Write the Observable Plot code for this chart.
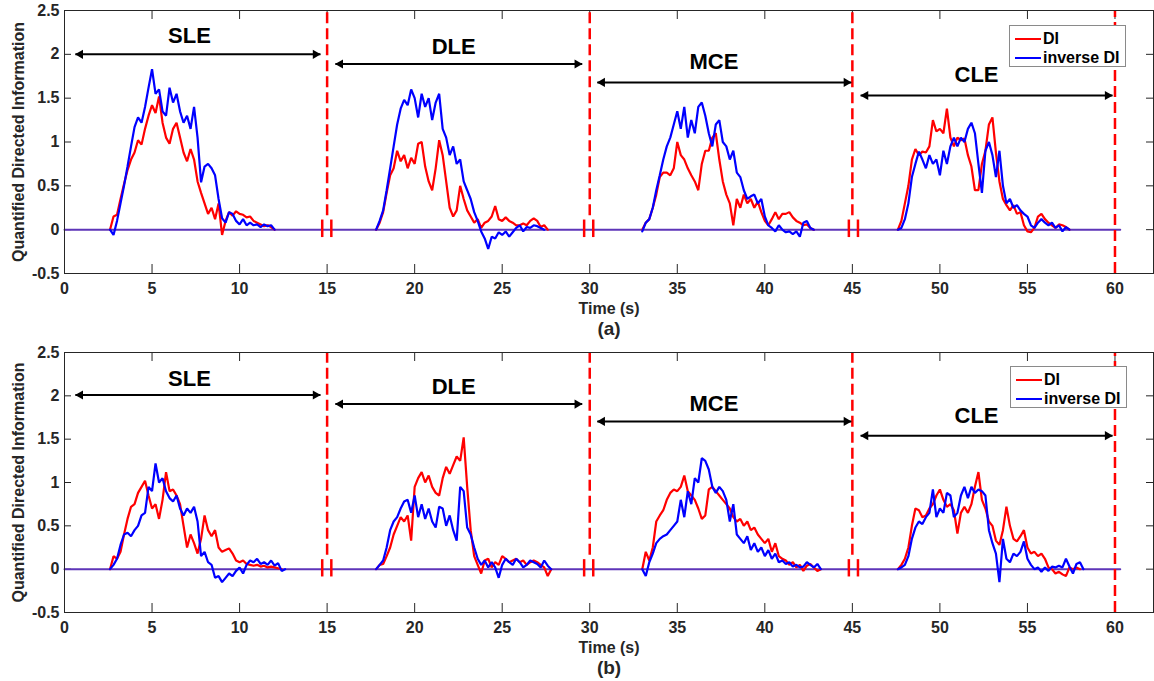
<!DOCTYPE html>
<html><head><meta charset="utf-8">
<script src="https://cdn.jsdelivr.net/npm/d3@7"></script>
<script src="https://cdn.jsdelivr.net/npm/@observablehq/plot@0.6"></script>
<style>
body{margin:0;background:#fff;font-family:"Liberation Sans",Arial,sans-serif;}
#wrap{position:relative;width:1154px;height:681px;overflow:hidden;}
#wrap svg{display:block;}
.legend{position:absolute;background:#fff;border:1px solid #8a8a8a;font-weight:bold;font-size:16px;color:#000;box-sizing:border-box;}
.legend .row{position:absolute;left:0;height:18px;line-height:18px;white-space:nowrap;display:flex;align-items:center;}
.legend .sw{display:inline-block;width:26px;height:2.5px;margin-right:2px;}
</style></head><body><div id="wrap"></div>
<script>
// ---------- data ----------
const dt = 0.2;                       // sampling step (s)
const xTicks = [0,5,10,15,20,25,30,35,40,45,50,55,60];
const yTicks = [-0.5,0,0.5,1,1.5,2,2.5];
const phases = ["SLE","DLE","MCE","CLE"];
const onsetsA = [2.6, 17.8, 33.0, 47.6];
const onsetsB = [2.6, 17.8, 33.0, 47.6];

// panel (a) DI
const aSLE_DI = [0,0.15,0.17,0.35,0.52,0.68,0.80,0.88,1.02,0.97,1.15,1.30,1.42,1.33,1.52,1.22,1.05,0.98,1.15,1.22,1.05,0.88,0.78,0.92,0.80,0.55,0.42,0.30,0.18,0.25,0.12,0.30,-0.06,0.10,0.20,0.16,0.21,0.18,0.17,0.14,0.15,0.10,0.08,0.06,0.04,0.05,0.03,0];
const aDLE_DI = [0,0.08,0.20,0.42,0.62,0.70,0.90,0.78,0.85,0.70,0.82,0.75,0.98,1.0,0.72,0.55,0.45,0.70,1.02,0.85,0.55,0.25,0.15,0.22,0.50,0.35,0.22,0.15,0.08,0.12,0.02,0.08,0.10,0.15,0.27,0.12,0.10,0.14,0.10,0.08,0.05,0.05,0.07,0.05,0.10,0.13,0.10,0.03,0.05,0];
const aMCE_DI = [0,0.08,0.12,0.25,0.40,0.60,0.65,0.65,0.62,0.70,1.0,0.85,0.80,0.70,0.62,0.55,0.45,0.75,0.90,0.90,1.05,1.10,0.80,0.55,0.40,0.30,0.05,0.35,0.25,0.40,0.30,0.35,0.25,0.32,0.20,0.10,0.05,0.12,0.20,0.12,0.18,0.18,0.20,0.14,0.10,0.08,0.05,0.06,0.02,0];
const aCLE_DI = [0,0.10,0.30,0.50,0.80,0.92,0.85,0.89,0.88,0.95,1.25,1.12,1.15,1.10,1.38,1.05,0.95,1.05,1.02,1.04,0.85,0.72,0.45,0.45,0.75,0.90,1.20,1.28,0.88,0.55,0.35,0.28,0.22,0.28,0.18,0.20,0.05,-0.02,-0.03,0.02,0.15,0.18,0.12,0.08,0.05,0.02,0.06,0.05,0.03,0];
// panel (a) inverse DI
const aSLE_IDI = [0,-0.06,0.10,0.30,0.50,0.72,0.95,1.17,1.28,1.22,1.40,1.62,1.83,1.55,1.60,1.35,1.30,1.62,1.45,1.55,1.35,1.22,1.30,1.15,1.40,1.05,0.54,0.72,0.75,0.70,0.62,0.35,0.13,0.08,0.20,0.18,0.10,0.06,0.12,0.05,0.08,0.05,0.06,0.03,0.06,0.04,0.05,0];
const aDLE_IDI = [0,0.10,0.22,0.45,0.70,0.95,1.20,1.38,1.48,1.42,1.60,1.50,1.28,1.55,1.40,1.50,1.25,1.45,1.55,1.15,1.05,0.85,0.95,0.75,0.80,0.55,0.45,0.35,0.20,0.10,-0.02,-0.10,-0.22,-0.08,-0.10,-0.03,-0.06,-0.02,-0.08,-0.03,0.02,0.05,-0.02,0.03,0.02,0.05,0.04,0.02,0];
const aMCE_IDI = [-0.02,0.08,0.12,0.25,0.45,0.62,0.80,0.95,1.05,1.20,1.35,1.15,1.40,1.05,1.25,1.10,1.40,1.45,1.30,1.10,0.95,1.20,1.25,1.0,0.95,0.80,0.90,0.65,0.60,0.45,0.35,0.38,0.40,0.30,0.35,0.15,0.05,0.02,-0.02,0.05,0.0,-0.03,-0.02,-0.05,-0.02,-0.08,0.08,0.10,0.02,0];
const aCLE_IDI = [0,0.02,0.12,0.30,0.60,0.75,0.89,0.80,0.70,0.85,0.75,0.80,0.62,0.90,0.75,0.95,1.05,0.95,1.05,1.00,1.15,1.22,1.10,0.75,0.42,0.90,1.00,0.85,0.60,0.90,0.50,0.30,0.35,0.25,0.28,0.22,0.18,0.15,0.05,0.02,0.08,0.12,0.08,0.05,0.08,0.02,0.05,-0.02,0.03,0];
// panel (b) DI
const bSLE_DI = [0,0.15,0.12,0.20,0.40,0.58,0.72,0.75,0.88,0.95,1.02,0.85,0.70,0.75,0.58,0.80,1.12,0.90,0.92,0.85,0.75,0.50,0.25,0.40,0.30,0.18,0.35,0.62,0.45,0.38,0.45,0.25,0.20,0.22,0.24,0.18,0.10,0.08,0.10,0.06,0.05,0.04,0.05,0.03,0.04,0.02,0.03,0.02,0.01,0];
const bDLE_DI = [0,0.05,0.06,0.15,0.25,0.40,0.50,0.60,0.55,0.62,0.33,0.95,1.05,1.12,1.00,1.08,0.95,0.88,0.85,1.05,1.18,1.10,1.20,1.30,1.25,1.52,0.95,0.45,0.15,0.05,-0.05,0.10,0.12,0.02,0.08,0.05,0.15,0.12,0.08,0.10,0.12,0.08,0.10,0.05,0.08,0.10,0.08,0.05,0.02,-0.08,0];
const bMCE_DI = [0,0.20,0.10,0.25,0.55,0.62,0.68,0.80,0.88,0.92,0.90,0.95,1.08,0.90,0.85,0.80,0.70,0.58,0.62,0.92,0.95,0.90,0.85,0.80,0.75,0.70,0.60,0.55,0.58,0.50,0.55,0.45,0.48,0.40,0.35,0.30,0.35,0.20,0.30,0.15,0.12,0.10,0.05,0.08,0.02,0.05,-0.02,0.04,0.06,0.02,-0.02,0];
const bCLE_DI = [0,0.05,0.12,0.25,0.50,0.70,0.68,0.60,0.62,0.70,0.75,0.85,0.92,0.80,0.72,0.75,0.68,0.41,0.65,0.72,0.65,0.75,0.95,1.12,0.80,0.70,0.55,0.50,0.33,0.28,0.45,0.72,0.50,0.35,0.32,0.38,0.45,0.25,0.18,0.20,0.15,0.18,0.12,0.02,0.0,-0.05,-0.03,-0.06,-0.08,0.02,0.0,0.02,0];
// panel (b) inverse DI
const bSLE_IDI = [0,0.05,0.12,0.28,0.40,0.42,0.38,0.45,0.50,0.62,0.65,0.95,0.90,1.22,1.00,1.05,0.90,0.82,0.78,0.85,0.70,0.62,0.70,0.65,0.72,0.55,0.15,0.20,0.08,0.05,-0.10,-0.08,-0.15,-0.10,-0.05,-0.08,-0.02,0.02,-0.05,0.05,0.10,0.08,0.12,0.06,0.08,0.05,0.10,0.04,0.07,-0.02,0];
const bDLE_IDI = [0,0.05,0.10,0.25,0.45,0.55,0.60,0.70,0.78,0.80,0.65,0.85,0.60,0.75,0.58,0.70,0.55,0.48,0.72,0.70,0.50,0.62,0.45,0.33,0.95,0.90,0.48,0.40,0.25,0.12,0.05,0.10,0.02,0.08,0.02,-0.10,0.05,0.12,0.08,0.05,0.12,0.08,0.02,0.05,0.10,0.08,0.06,0.02,0.10,0.04,0];
const bMCE_IDI = [0,-0.08,0.08,0.18,0.30,0.35,0.38,0.40,0.45,0.50,0.55,0.80,0.60,0.90,0.75,1.05,1.00,1.28,1.25,1.15,0.95,0.88,0.95,0.90,0.80,0.55,0.75,0.40,0.35,0.30,0.38,0.22,0.30,0.20,0.25,0.15,0.22,0.12,0.18,0.08,0.10,0.06,0.08,0.03,0.05,0.02,0.03,0.08,0.05,0.02,0.06,0];
const bCLE_IDI = [0,0.02,0.05,0.15,0.35,0.48,0.55,0.52,0.60,0.65,0.92,0.60,0.70,0.65,0.88,0.85,0.60,0.65,0.85,0.95,0.82,0.95,0.88,0.92,0.90,0.85,0.45,0.30,0.18,-0.15,0.35,0.12,0.08,0.18,0.15,0.20,0.32,0.12,0.05,0.0,0.02,-0.03,0.02,-0.02,0.03,0.02,0.04,0.02,0.12,0.03,-0.05,0.06,0.08,0];

// annotations
const baseline = [{t: 0, v: 0}, {t: 60.3, v: 0}];
const boundaries = [15, 30, 45];
const lastBoundary = [60];
const dashTop = 2.5, dashBottom = 0.16;
const breakMarks = [14.72, 15.24, 29.68, 30.2, 44.8, 45.32];
const breakLow = -0.09, breakHigh = 0.11;
const arrowStart = [0.62, 15.47, 30.43, 45.47];
const arrowEnd = [14.62, 29.57, 44.94, 59.86];
const arrowYA = [2.0, 1.89, 1.68, 1.53];
const arrowYB = [2.01, 1.905, 1.705, 1.54];
const labelX = [7.14, 22.23, 37.09, 52.09];
const labelYA = [2.215, 2.08, 1.91, 1.76];
const labelYB = [2.19, 2.10, 1.905, 1.77];

// ---------- build ----------
function series(onsets, arrays, name) {
  return arrays.flatMap((vals, k) => vals.map((v, i) => ({t: Math.round((onsets[k] + i * dt) * 100) / 100, v, seg: name + k})));
}
const aDI = series(onsetsA, [aSLE_DI, aDLE_DI, aMCE_DI, aCLE_DI], "aDI");
const aIDI = series(onsetsA, [aSLE_IDI, aDLE_IDI, aMCE_IDI, aCLE_IDI], "aIDI");
const bDI = series(onsetsB, [bSLE_DI, bDLE_DI, bMCE_DI, bCLE_DI], "bDI");
const bIDI = series(onsetsB, [bSLE_IDI, bDLE_IDI, bMCE_IDI, bCLE_IDI], "bIDI");

const RED = "#ff0000", BLUE = "#0000ff", PURPLE = "#5e35b8", AX = "#262626";
const phaseIdx = phases.map((_, i) => i);

function panel({di, idi, arrowY, labelY, tag, height, marginTop, marginBottom}) {
  const plotH = height - marginTop - marginBottom;
  const plotW = 1154 - 64 - 1;
  return Plot.plot({
    width: 1154, height, marginLeft: 64, marginRight: 1, marginTop, marginBottom,
    x: {domain: [0, 62.2]},
    y: {domain: [-0.5, 2.5]},
    style: {fontFamily: "'Liberation Sans', Arial, sans-serif", fontSize: "16px", fontWeight: "bold", color: AX, background: "white", overflow: "visible"},
    marks: [
      Plot.ruleX(xTicks, {x: d => d, insetTop: plotH - 9, stroke: AX}),
      Plot.ruleX(xTicks, {x: d => d, insetBottom: plotH - 9, stroke: AX}),
      Plot.ruleY(yTicks, {y: d => d, insetRight: plotW - 7, stroke: AX}),
      Plot.ruleY(yTicks, {y: d => d, insetLeft: plotW - 7, stroke: AX}),
      Plot.axisX(xTicks, {tickSize: 0, tickPadding: 9, label: null, fontSize: 16}),
      Plot.axisY(yTicks, {tickSize: 0, tickPadding: 5, tickFormat: d => String(d), label: null, fontSize: 16}),
      Plot.line(baseline, {x: "t", y: "v", stroke: PURPLE, strokeWidth: 2}),
      Plot.line(di, {x: "t", y: "v", z: "seg", stroke: RED, strokeWidth: 2.2, strokeLinejoin: "miter"}),
      Plot.line(idi, {x: "t", y: "v", z: "seg", stroke: BLUE, strokeWidth: 2.2, strokeLinejoin: "miter"}),
      Plot.ruleX(boundaries, {x: d => d, y1: dashBottom, y2: dashTop, stroke: RED, strokeWidth: 2.5, strokeDasharray: "11,5"}),
      Plot.ruleX(lastBoundary, {x: d => d, y1: -0.5, y2: dashTop, stroke: RED, strokeWidth: 2.5, strokeDasharray: "11,5"}),
      Plot.ruleX(breakMarks, {x: d => d, y1: breakLow, y2: breakHigh, stroke: RED, strokeWidth: 2.5}),
      Plot.link(phaseIdx, {x1: i => arrowStart[i], x2: i => arrowEnd[i], y1: i => arrowY[i], y2: i => arrowY[i], stroke: "#000", strokeWidth: 2}),
      Plot.dot(phaseIdx, {x: i => arrowStart[i], y: i => arrowY[i], symbol: "triangle", rotate: -90, r: 3.4, fill: "#000", stroke: null, dx: 5}),
      Plot.dot(phaseIdx, {x: i => arrowEnd[i], y: i => arrowY[i], symbol: "triangle", rotate: 90, r: 3.4, fill: "#000", stroke: null, dx: -5}),
      Plot.text(phaseIdx, {x: i => labelX[i], y: i => labelY[i], text: i => phases[i], fontSize: 22, fontWeight: "bold", fill: "#000"}),
      Plot.text(["Time (s)"], {frameAnchor: "bottom", lineAnchor: "middle", dy: 35, fontSize: 16, fill: AX}),
      Plot.text([tag], {frameAnchor: "bottom", lineAnchor: "middle", dy: 55, fontSize: 19, fill: AX}),
      Plot.text(["Quantified Directed Information"], {frameAnchor: "left", textAnchor: "middle", lineAnchor: "middle", rotate: -90, dx: -46, fontSize: 16, fill: AX}),
      Plot.frame({stroke: AX})
    ]
  });
}

const wrap = document.getElementById("wrap");
wrap.appendChild(panel({di: aDI, idi: aIDI, arrowY: arrowYA, labelY: labelYA, tag: "(a)", height: 340, marginTop: 10, marginBottom: 67}));
wrap.appendChild(panel({di: bDI, idi: bIDI, arrowY: arrowYB, labelY: labelYB, tag: "(b)", height: 341, marginTop: 12, marginBottom: 69}));

function legend(left, top) {
  const box = document.createElement("div");
  box.className = "legend";
  Object.assign(box.style, {left: left + "px", top: top + "px", width: "117px", height: "42px"});
  [["DI", RED, 4], ["inverse DI", BLUE, 23]].forEach(([name, color, y]) => {
    const row = document.createElement("div");
    row.className = "row";
    row.style.top = y + "px";
    row.style.left = "5px";
    const sw = document.createElement("span");
    sw.className = "sw";
    sw.style.background = color;
    row.appendChild(sw);
    row.appendChild(document.createTextNode(name));
    box.appendChild(row);
  });
  wrap.appendChild(box);
}
legend(1009, 25);
legend(1010, 366);
</script></body></html>
